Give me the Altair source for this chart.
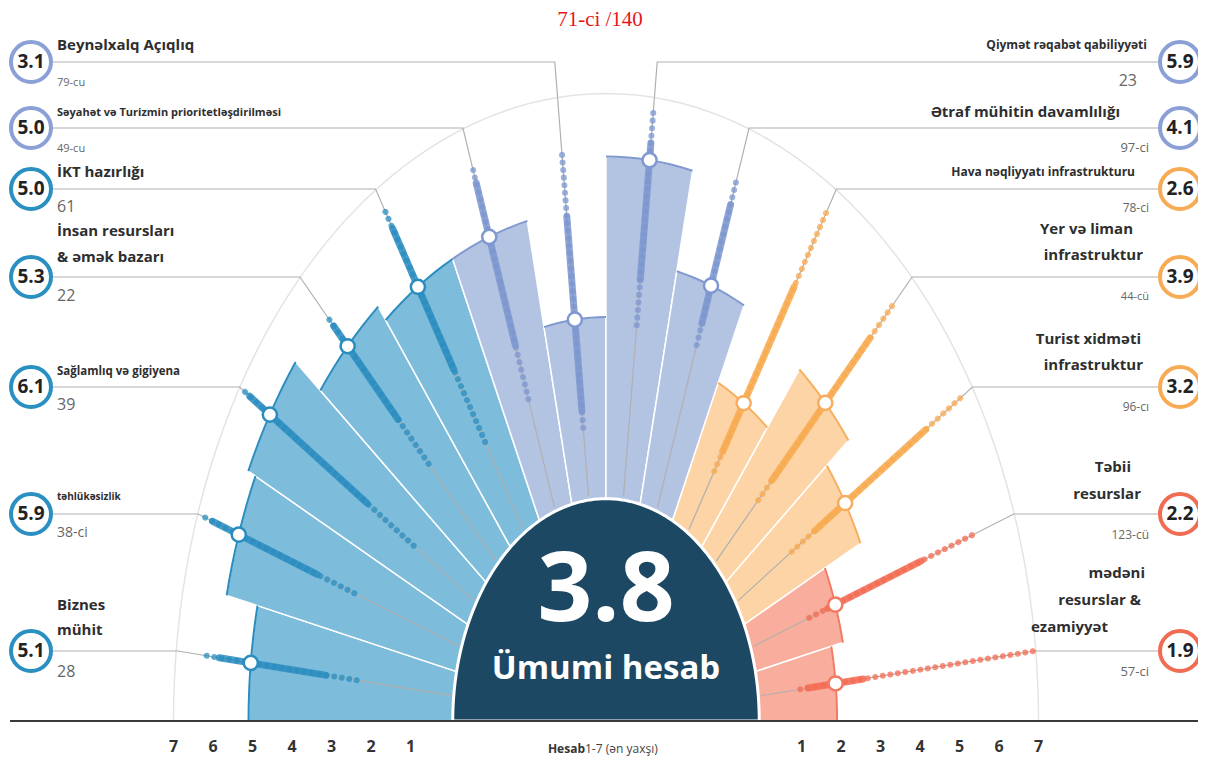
import altair as alt
import pandas as pd

# ---------------- data ----------------
PILLARS = [
    "Biznes mühit", "təhlükəsizlik", "Sağlamlıq və gigiyena",
    "İnsan resursları & əmək bazarı", "İKT hazırlığı",
    "Səyahət və Turizmin prioritetləşdirilməsi", "Beynəlxalq Açıqlıq",
    "Qiymət rəqabət qabiliyyəti", "Ətraf mühitin davamlılığı",
    "Hava nəqliyyatı infrastrukturu", "Yer və liman infrastruktur",
    "Turist xidməti infrastruktur", "Təbii resurslar",
    "mədəni resurslar & ezamiyyət",
]
NAME_LINES = [
    ["Biznes", "mühit"], ["təhlükəsizlik"], ["Sağlamlıq və gigiyena"],
    ["İnsan resursları", "& əmək bazarı"], ["İKT hazırlığı"],
    ["Səyahət və Turizmin prioritetləşdirilməsi"], ["Beynəlxalq Açıqlıq"],
    ["Qiymət rəqabət qabiliyyəti"], ["Ətraf mühitin davamlılığı"],
    ["Hava nəqliyyatı infrastrukturu"], ["Yer və liman", "infrastruktur"],
    ["Turist xidməti", "infrastruktur"], ["Təbii", "resurslar"],
    ["mədəni", "resurslar &", "ezamiyyət"],
]
SCORES = [5.1, 5.9, 6.1, 5.3, 5.0, 5.0, 3.1, 5.9, 4.1, 2.6, 3.9, 3.2, 2.2, 1.9]
RANKS = ["28", "38-ci", "39", "22", "61", "49-cu", "79-cu",
         "23", "97-ci", "78-ci", "44-cü", "96-cı", "123-cü", "57-ci"]
GROUPS = ["A"] * 5 + ["B"] * 4 + ["C"] * 3 + ["D"] * 2
# spread of all countries' scores along each ray (estimated)
DIST_MIN = [2.4, 2.8, 1.8, 2.4, 1.8, 2.0, 1.2, 3.0, 3.0, 1.2, 1.5, 1.6, 1.5, 1.0]
DENSE_LO = [3.2, 3.8, 3.2, 3.5, 3.3, 3.0, 1.5, 3.8, 3.4, 1.6, 2.0, 2.3, 2.0, 1.2]
DENSE_HI = [5.9, 6.6, 6.7, 5.8, 6.2, 6.0, 4.9, 6.2, 5.6, 5.0, 5.5, 5.6, 4.5, 2.6]
DIST_MAX = [6.3, 6.9, 6.9, 6.1, 6.6, 6.3, 6.0, 6.8, 6.1, 6.6, 6.4, 6.7, 6.0, 7.0]
OVERALL = "3.8"
OVERALL_LABEL = "Ümumi hesab"
RANK_TITLE = "71-ci /140"
TICKS = [1, 2, 3, 4, 5, 6, 7]
AXIS_BOLD = "Hesab"
AXIS_REST = "1-7 (ən yaxşı)"

# ---------------- styles / layout ----------------
COLORS = {
    "A": dict(fill="#7dbcda", edge="#2b8dbf", dot="#2a8dbf", ring="#2a90c2"),
    "B": dict(fill="#b3c3e2", edge="#7f98cf", dot="#7c96cf", ring="#8aa0d6"),
    "C": dict(fill="#fcd4a6", edge="#f6ad5e", dot="#f8aa50", ring="#f7ab55"),
    "D": dict(fill="#f9ad9c", edge="#f07a63", dot="#f36b52", ring="#f06c53"),
}
FONT = "Open Sans, sans-serif"
W, H = 1190, 749
CX, CY = 598.0, 713.0      # centre of the half-disc (chart px)
SX, SY = 39.5, 57.3        # px per score unit, horizontal / vertical
R0 = 3.95                  # inner offset (score 0) in units
RC = 3.88                  # dark centre disc radius in units
XS = alt.Scale(domain=[-CX / SX, (W - CX) / SX], nice=False, zero=False)
YS = alt.Scale(domain=[-(H - CY) / SY, CY / SY], nice=False, zero=False)

LINE_Y = [651, 514, 387, 277, 189, 128, 62, 62, 128, 189, 277, 387, 514, 651]
NAME_Y = [[605, 630], [497], [372], [231, 257], [172], [113], [45], [45], [112],
          [172], [229, 255], [339, 365], [467, 494], [573, 600, 627]]
NAME_XR = [[1147], [1120], [1135], [1133, 1143], [1141, 1143], [1131, 1141],
           [1145, 1141, 1108]]
NAME_SIZE = [15, 10, 11.5, 15, 15, 11, 15, 12, 15, 12, 15, 15, 15, 15]
RANK_Y = [672, 533, 405, 296, 207, 149, 83, 81, 148, 208, 297, 407, 535, 672]
RANK_SIZE = [16, 14, 16, 16, 16, 11, 11, 16, 13, 12, 11, 12, 12, 13]
RANK_XR = [1137, 1149, 1149, 1149, 1149, 1149, 1149]


def X(f):
    return alt.X(f"{f}:Q", scale=XS, axis=None)


def Y(f):
    return alt.Y(f"{f}:Q", scale=YS, axis=None)


df = pd.DataFrame({
    "idx": list(range(len(PILLARS))), "name": PILLARS, "score": SCORES,
    "group": GROUPS, "dmin": DIST_MIN, "dlo": DENSE_LO, "dhi": DENSE_HI,
    "dmax": DIST_MAX, "ly": LINE_Y,
})
for key in ["fill", "edge", "dot", "ring"]:
    df[key] = [COLORS[g][key] for g in GROUPS]

THETA = "PI - (datum.idx + 0.5) * PI / 14"

# faint grid arc at score 7
grid = alt.Chart(pd.DataFrame({"r": [7]})).transform_calculate(
    k="sequence(0, 91)").transform_flatten(["k"]).transform_calculate(
    a="PI * datum.k / 90").transform_calculate(
    px=f"({R0} + datum.r) * cos(datum.a)", py=f"({R0} + datum.r) * sin(datum.a)"
).mark_line(stroke="#e4e4e4", strokeWidth=1.5).encode(
    x=X("px"), y=Y("py"), order=alt.Order("k:Q"))

# pillar wedges
wedge_base = alt.Chart(df).transform_calculate(
    k="sequence(0, 10)").transform_flatten(["k"]).transform_calculate(
    a="PI - (datum.idx + min(datum.k, 8) / 8) * PI / 14").transform_calculate(
    rr=f"datum.k <= 8 ? {R0} + datum.score : 0").transform_calculate(
    px="datum.rr * cos(datum.a)", py="datum.rr * sin(datum.a)")

bars = wedge_base.mark_line(
    interpolate="linear-closed", filled=True, stroke="white", strokeWidth=1.5
).encode(x=X("px"), y=Y("py"), order=alt.Order("k:Q"), detail="idx:N",
         fill=alt.Fill("fill:N", scale=None))

edges = wedge_base.transform_filter("datum.k <= 8").mark_line(strokeWidth=2).encode(
    x=X("px"), y=Y("py"), order=alt.Order("k:Q"), detail="idx:N",
    stroke=alt.Stroke("edge:N", scale=None))

# leader lines: ray -> label row -> label ring
leaders = alt.Chart(df).transform_calculate(
    k="sequence(0, 3)").transform_flatten(["k"]).transform_calculate(
    t=THETA).transform_calculate(
    ky=f"({CY} - (datum.ly - 8)) / {SY}").transform_calculate(
    ex=f"datum.idx < 7 ? {(45 - CX) / SX} : {(1150 - CX) / SX}").transform_calculate(
    px=f"datum.k == 0 ? {R0} * cos(datum.t) : (datum.k == 1 ? datum.ky / tan(datum.t) : datum.ex)",
    py=f"datum.k == 0 ? {R0} * sin(datum.t) : datum.ky",
).mark_line(stroke="#b0b0b0", strokeWidth=1.2).encode(
    x=X("px"), y=Y("py"), order=alt.Order("k:Q"), detail="idx:N")

ray = alt.Chart(df).transform_calculate(t=THETA).transform_calculate(
    x1=f"({R0} + datum.dmin) * cos(datum.t)", y1=f"({R0} + datum.dmin) * sin(datum.t)",
    x2=f"({R0} + datum.dmax) * cos(datum.t)", y2=f"({R0} + datum.dmax) * sin(datum.t)",
    x3=f"({R0} + datum.dlo) * cos(datum.t)", y3=f"({R0} + datum.dlo) * sin(datum.t)",
    x4=f"({R0} + datum.dhi) * cos(datum.t)", y4=f"({R0} + datum.dhi) * sin(datum.t)",
    x5=f"({R0} + datum.score) * cos(datum.t)", y5=f"({R0} + datum.score) * sin(datum.t)",
)
dots_sparse = ray.mark_rule(strokeWidth=6, strokeCap="round", strokeDash=[0.1, 7.5],
                            opacity=0.75).encode(
    x=X("x1"), y=Y("y1"), x2="x2:Q", y2="y2:Q", stroke=alt.Stroke("dot:N", scale=None))
dots_dense = ray.mark_rule(strokeWidth=7, strokeCap="round", opacity=0.85).encode(
    x=X("x3"), y=Y("y3"), x2="x4:Q", y2="y4:Q", stroke=alt.Stroke("dot:N", scale=None))

# dark centre half-disc
centre = alt.Chart(pd.DataFrame({"r": [RC]})).transform_calculate(
    k="sequence(0, 121)").transform_flatten(["k"]).transform_calculate(
    a="PI * datum.k / 120").transform_calculate(
    px="datum.r * cos(datum.a)", py="datum.r * sin(datum.a)"
).mark_line(interpolate="linear-closed", filled=True, fill="#1d4863",
            stroke="white", strokeWidth=3).encode(
    x=X("px"), y=Y("py"), order=alt.Order("k:Q"))

markers = ray.mark_point(shape="circle", filled=True, fill="white", size=200,
                         strokeWidth=2.5, opacity=1).encode(
    x=X("x5"), y=Y("y5"), stroke=alt.Stroke("edge:N", scale=None))

baseline = alt.Chart(pd.DataFrame({"a": [0]})).mark_rule(
    color="#3a3a3a", strokeWidth=2).encode(
    x=alt.value(2), x2=alt.value(W), y=alt.value(CY))

tick_df = pd.DataFrame({"t": TICKS * 2, "side": [-1] * 7 + [1] * 7})
ticks = alt.Chart(tick_df).transform_calculate(
    px=f"datum.side * ({R0} + datum.t)").mark_text(
    font=FONT, fontSize=16, fontWeight="bold", color="#333333", baseline="middle"
).encode(x=X("px"), y=alt.value(739), text="t:Q")

axis_bold = alt.Chart(pd.DataFrame({"s": [AXIS_BOLD]})).mark_text(
    font=FONT, fontSize=12, fontWeight="bold", color="#333333", align="right",
    baseline="middle").encode(x=alt.value(577), y=alt.value(741), text="s:N")
axis_rest = alt.Chart(pd.DataFrame({"s": [AXIS_REST]})).mark_text(
    font=FONT, fontSize=12, color="#444444", align="left",
    baseline="middle").encode(x=alt.value(577), y=alt.value(741), text="s:N")

big = alt.Chart(pd.DataFrame({"s": [OVERALL]})).mark_text(
    font=FONT, fontSize=96, fontWeight="bold", color="white", baseline="middle"
).encode(x=alt.value(CX), y=alt.value(584), text="s:N")
big_lbl = alt.Chart(pd.DataFrame({"s": [OVERALL_LABEL]})).mark_text(
    font=FONT, fontSize=33, fontWeight="bold", color="white", baseline="middle"
).encode(x=alt.value(CX), y=alt.value(661), text="s:N")

title = alt.Chart(pd.DataFrame({"s": [RANK_TITLE]})).mark_text(
    font="Liberation Serif", fontSize=21, color="#e8161b", baseline="middle"
).encode(x=alt.value(592), y=alt.value(12), text="s:N")

# label texts
name_rows, rank_rows, ring_rows = [], [], []
for i, lines in enumerate(NAME_LINES):
    left = i < 7
    for j, s in enumerate(lines):
        xr = 57 if left else NAME_XR[i - 7][j]
        name_rows.append(dict(s=s, tx=xr - 8, ty=NAME_Y[i][j] - 8, size=NAME_SIZE[i],
                              side="L" if left else "R"))
    rank_rows.append(dict(s=RANKS[i], tx=(57 if left else RANK_XR[i - 7]) - 8,
                          ty=RANK_Y[i] - 8, size=RANK_SIZE[i], side="L" if left else "R"))
    ring_rows.append(dict(s=f"{SCORES[i]:.1f}", tx=(31 if left else 1180) - 8,
                          ty=LINE_Y[i] - 8, ring=COLORS[GROUPS[i]]["ring"]))
names = pd.DataFrame(name_rows)
ranks = pd.DataFrame(rank_rows)
rings = pd.DataFrame(ring_rows)


def txt(frame, side, weight, color, align):
    return alt.Chart(frame[frame.side == side]).mark_text(
        font=FONT, fontWeight=weight, color=color, align=align, baseline="middle"
    ).encode(x=alt.X("tx:Q", scale=None, axis=None), y=alt.Y("ty:Q", scale=None, axis=None),
             text="s:N", size=alt.Size("size:Q", scale=None))


ring_marks = alt.Chart(rings).mark_point(
    shape="circle", filled=True, fill="white", size=1600, strokeWidth=4, opacity=1
).encode(x=alt.X("tx:Q", scale=None, axis=None), y=alt.Y("ty:Q", scale=None, axis=None),
         stroke=alt.Stroke("ring:N", scale=None))
ring_text = alt.Chart(rings).mark_text(
    font=FONT, fontSize=19, fontWeight="bold", color="#222222", baseline="middle"
).encode(x=alt.X("tx:Q", scale=None, axis=None), y=alt.Y("ty:Q", scale=None, axis=None),
         text="s:N")

chart = alt.layer(
    grid, bars, leaders, edges, dots_sparse, dots_dense, centre, markers, baseline,
    ticks, axis_bold, axis_rest, big, big_lbl, title,
    txt(names, "L", "bold", "#2e2e2e", "left"), txt(names, "R", "bold", "#2e2e2e", "right"),
    txt(ranks, "L", "normal", "#666666", "left"), txt(ranks, "R", "normal", "#666666", "right"),
    ring_marks, ring_text,
).resolve_scale(x="independent", y="independent").properties(
    width=W, height=H, padding=0, autosize=alt.AutoSizeParams(type="none")
).configure_view(stroke=None)

chart.save("out.html", embed_options={"renderer": "svg", "actions": False})
